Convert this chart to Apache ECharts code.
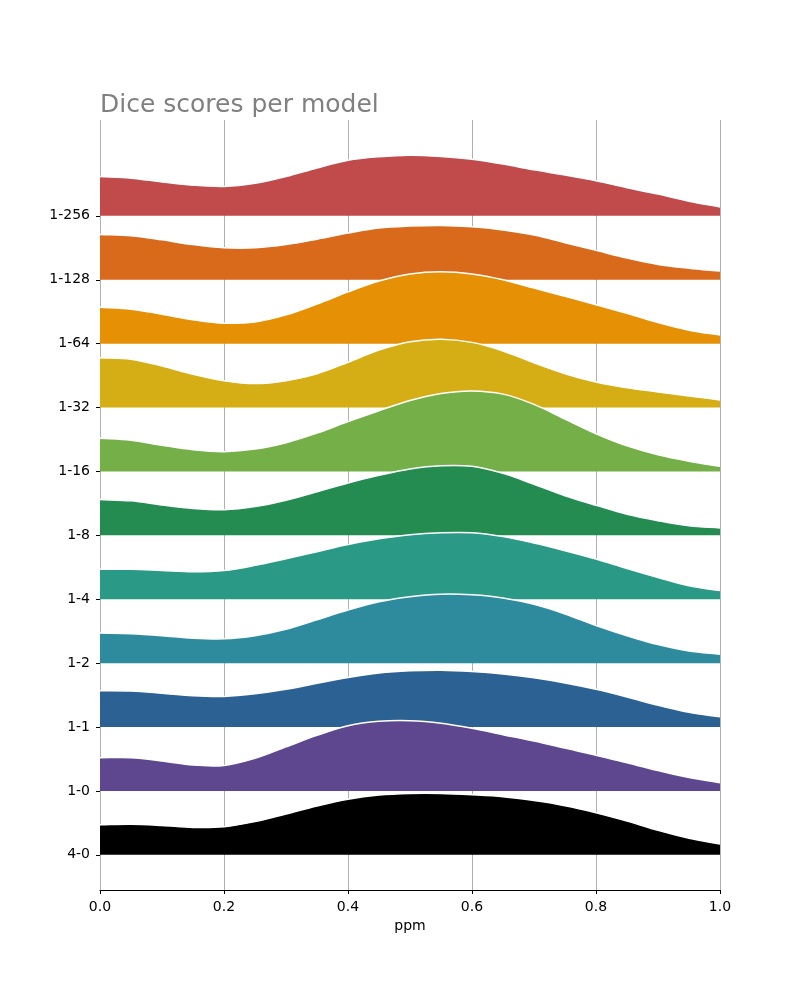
<!DOCTYPE html>
<html>
<head>
<meta charset="utf-8">
<script src="https://cdn.jsdelivr.net/npm/echarts@6/dist/echarts.min.js"></script>
<style>
  html, body { margin: 0; padding: 0; background: #fff; }
  #chart { width: 800px; height: 1000px; }
</style>
</head>
<body>
<div id="chart"></div>
<script>
// sample positions along ppm
var xs = [0, 0.05, 0.1, 0.15, 0.2, 0.25, 0.3, 0.35, 0.4, 0.45, 0.5,
          0.55, 0.6, 0.65, 0.7, 0.75, 0.8, 0.85, 0.9, 0.95, 1.0];

// models from bottom to top
var models = ['4-0', '1-0', '1-1', '1-2', '1-4', '1-8', '1-16', '1-32', '1-64', '1-128', '1-256'];
var colors = ['#000000', '#5e478f', '#2c6194', '#2e8b9e', '#2a9a86', '#248c50',
              '#74af48', '#d5ae16', '#e69005', '#d9691b', '#c14a4a'];

// ridge heights (in row units) per model
var d_4_0   = [0.47, 0.48, 0.46, 0.43, 0.44, 0.52, 0.64, 0.765, 0.87, 0.935, 0.96, 0.96, 0.94, 0.91, 0.85, 0.77, 0.66, 0.53, 0.385, 0.26, 0.17];
var d_1_0   = [0.52, 0.52, 0.47, 0.405, 0.40, 0.51, 0.69, 0.87, 1.02, 1.09, 1.10, 1.06, 0.98, 0.88, 0.78, 0.67, 0.56, 0.44, 0.32, 0.21, 0.13];
var d_1_1   = [0.57, 0.565, 0.53, 0.49, 0.48, 0.52, 0.59, 0.685, 0.775, 0.845, 0.88, 0.89, 0.87, 0.83, 0.77, 0.69, 0.59, 0.47, 0.34, 0.23, 0.16];
var d_1_2   = [0.47, 0.46, 0.43, 0.39, 0.38, 0.43, 0.53, 0.68, 0.83, 0.96, 1.04, 1.08, 1.07, 1.02, 0.92, 0.77, 0.59, 0.43, 0.29, 0.19, 0.14];
var d_1_4   = [0.47, 0.47, 0.45, 0.43, 0.45, 0.53, 0.635, 0.745, 0.855, 0.945, 1.01, 1.04, 1.04, 0.98, 0.88, 0.76, 0.63, 0.48, 0.34, 0.21, 0.135];
var d_1_8   = [0.56, 0.54, 0.475, 0.42, 0.40, 0.45, 0.55, 0.68, 0.82, 0.94, 1.04, 1.09, 1.08, 0.97, 0.80, 0.62, 0.47, 0.33, 0.23, 0.15, 0.115];
var d_1_16  = [0.52, 0.49, 0.41, 0.34, 0.31, 0.35, 0.45, 0.60, 0.78, 0.95, 1.11, 1.22, 1.26, 1.21, 1.05, 0.82, 0.59, 0.40, 0.26, 0.16, 0.08];
var d_1_32  = [0.78, 0.755, 0.65, 0.52, 0.42, 0.375, 0.42, 0.53, 0.71, 0.90, 1.03, 1.07, 1.02, 0.885, 0.70, 0.53, 0.40, 0.31, 0.245, 0.18, 0.12];
var d_1_64  = [0.57, 0.54, 0.46, 0.375, 0.32, 0.34, 0.45, 0.62, 0.81, 0.98, 1.09, 1.125, 1.09, 1.0, 0.87, 0.74, 0.61, 0.475, 0.33, 0.21, 0.135];
var d_1_128 = [0.71, 0.69, 0.625, 0.55, 0.50, 0.50, 0.55, 0.635, 0.73, 0.81, 0.84, 0.85, 0.83, 0.78, 0.70, 0.58, 0.46, 0.34, 0.24, 0.18, 0.135];
var d_1_256 = [0.615, 0.59, 0.53, 0.48, 0.46, 0.51, 0.615, 0.75, 0.87, 0.925, 0.95, 0.93, 0.885, 0.81, 0.72, 0.64, 0.55, 0.44, 0.34, 0.23, 0.14];

var heights = [d_4_0, d_1_0, d_1_1, d_1_2, d_1_4, d_1_8, d_1_16, d_1_32, d_1_64, d_1_128, d_1_256];
var yTicks = [0, 1, 2, 3, 4, 5, 6, 7, 8, 9, 10];

// catmull-rom through screen points -> svg path segments
function splinePath(p) {
  var n = p.length, s = '';
  for (var k = 0; k < n - 1; k++) {
    var p0 = k > 0 ? p[k - 1] : [2 * p[0][0] - p[1][0], 2 * p[0][1] - p[1][1]];
    var p1 = p[k], p2 = p[k + 1];
    var p3 = k + 2 < n ? p[k + 2] : [2 * p[n - 1][0] - p[n - 2][0], 2 * p[n - 1][1] - p[n - 2][1]];
    var c1x = p1[0] + (p2[0] - p0[0]) / 6, c1y = p1[1] + (p2[1] - p0[1]) / 6;
    var c2x = p2[0] - (p3[0] - p1[0]) / 6, c2y = p2[1] - (p3[1] - p1[1]) / 6;
    s += ' C' + c1x + ' ' + c1y + ' ' + c2x + ' ' + c2y + ' ' + p2[0] + ' ' + p2[1];
  }
  return s;
}

function renderRidge(params, api) {
  var i = api.value(0);
  var pts = [];
  for (var j = 0; j < xs.length; j++) {
    pts.push(api.coord([xs[j], i + heights[i][j]]));
  }
  var b0 = api.coord([xs[0], i]);
  var b1 = api.coord([xs[xs.length - 1], i]);
  var curve = splinePath(pts);
  var fillD = 'M' + b0[0] + ' ' + b0[1] + ' L' + pts[0][0] + ' ' + pts[0][1] + curve +
              ' L' + b1[0] + ' ' + b1[1] + ' Z';
  var lineD = 'M' + pts[0][0] + ' ' + pts[0][1] + curve;
  return {
    type: 'group',
    children: [
      { type: 'path', shape: { pathData: fillD }, style: { fill: colors[i], stroke: null } },
      { type: 'path', shape: { pathData: lineD }, style: { fill: null, stroke: '#ffffff', lineWidth: 1.5 } }
    ]
  };
}

// top row first so lower rows are painted over it
var rows = [];
for (var r = models.length - 1; r >= 0; r--) rows.push([r]);

var myChart = echarts.init(document.getElementById('chart'));
var option = {
  animation: false,
  backgroundColor: '#ffffff',
  title: {
    text: 'Dice scores per model',
    left: 95,
    top: 88,
    textStyle: { color: '#808080', fontSize: 25, fontWeight: 'normal', fontFamily: 'DejaVu Sans' }
  },
  grid: { left: 100, right: 80, top: 120, bottom: 110 },
  xAxis: {
    type: 'value',
    min: 0,
    max: 1,
    interval: 0.2,
    name: 'ppm',
    nameLocation: 'middle',
    nameGap: 29,
    nameTextStyle: { color: '#000', fontSize: 14, fontFamily: 'DejaVu Sans' },
    axisLine: { show: true, onZero: false, lineStyle: { color: '#000', width: 1 } },
    axisTick: { show: true, length: 4, lineStyle: { color: '#000' } },
    axisLabel: {
      color: '#000', fontSize: 14, fontFamily: 'DejaVu Sans', margin: 10,
      formatter: function (v) { return v.toFixed(1); }
    },
    splitLine: { show: true, lineStyle: { color: '#b0b0b0', width: 1 } }
  },
  yAxis: {
    type: 'value',
    min: -0.55,
    max: 11.5,
    axisLine: { show: false },
    axisTick: { show: true, length: 4, customValues: yTicks, lineStyle: { color: '#000' } },
    axisLabel: {
      color: '#000', fontSize: 14, fontFamily: 'DejaVu Sans', margin: 10,
      padding: [4, 0, 0, 0],
      customValues: yTicks,
      formatter: function (v) { return models[Math.round(v)]; }
    },
    splitLine: { show: false }
  },
  series: [{
    type: 'custom',
    renderItem: renderRidge,
    data: rows,
    encode: { x: -1, y: 0 },
    silent: true,
    z: 10
  }]
};
myChart.setOption(option);
</script>
</body>
</html>
